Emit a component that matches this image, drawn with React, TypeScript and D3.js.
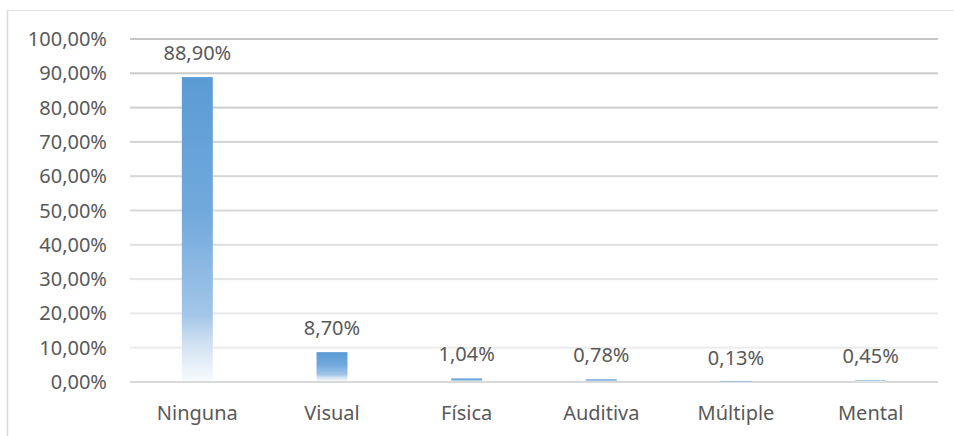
import React from "react";
import * as d3 from "d3";

const categories = ["Ninguna", "Visual", "Física", "Auditiva", "Múltiple", "Mental"];
const values = [88.9, 8.7, 1.04, 0.78, 0.13, 0.45];
const valueLabels = ["88,90%", "8,70%", "1,04%", "0,78%", "0,13%", "0,45%"];
const yTicks = [0, 10, 20, 30, 40, 50, 60, 70, 80, 90, 100];

const W = 954;
const H = 436;
const left = 130;
const right = 938;
const top = 39;
const bottom = 382;
const font = "'Noto Sans', 'Open Sans', sans-serif";
const textColor = "#595959";
const fs = 20;

export default function App() {
  const x = d3.scaleBand<string>().domain(categories).range([left, right]).paddingInner(0.77).paddingOuter(0.385);
  const y = d3.scaleLinear().domain([0, 100]).range([bottom, top]);
  const fmt = (v: number) => d3.format(".2f")(v).replace(".", ",") + "%";

  return (
    <svg width={W} height={H} style={{ position: "absolute", left: 0, top: 0 }}>
      <defs>
        <linearGradient id="barGrad" x1="0" y1="0" x2="0" y2="1">
          <stop offset="0" stopColor="#5b9bd5" />
          <stop offset="0.45" stopColor="#72a9dc" />
          <stop offset="0.78" stopColor="#a2c6e8" />
          <stop offset="0.88" stopColor="#d2e2f2" />
          <stop offset="1" stopColor="#f7fafd" />
        </linearGradient>
        <linearGradient id="gridGrad" gradientUnits="userSpaceOnUse" x1="0" y1={top} x2="0" y2={bottom}>
          <stop offset="0" stopColor="#c6c6c6" />
          <stop offset="1" stopColor="#f0f0f0" />
        </linearGradient>
      </defs>
      <rect x={0} y={0} width={W} height={H} fill="#fff" />
      <line x1={7.5} y1={10} x2={7.5} y2={H} stroke="#d9d9d9" strokeWidth={1.5} />
      <line x1={7} y1={10.5} x2={W} y2={10.5} stroke="#e0e0e0" strokeWidth={1} />
      {yTicks.map((t) => (
        <g key={t}>
          {t > 0 && (
            <rect x={left} y={y(t) - 1} width={right - left} height={2} fill="url(#gridGrad)" />
          )}
          <text x={107} y={y(t) + 7} textAnchor="end" fontFamily={font} fontSize={fs} fill={textColor}>
            {fmt(t)}
          </text>
        </g>
      ))}
      <line x1={left} y1={bottom} x2={right} y2={bottom} stroke="#d9d9d9" strokeWidth={2} />
      {categories.map((c, i) => {
        const bx = x(c) as number;
        const by = y(values[i]);
        const bh = bottom - 1 - by;
        return (
          <g key={c}>
            <rect x={bx} y={by} width={x.bandwidth()} height={Math.max(bh, 1)} fill="url(#barGrad)" />
            <text x={bx + x.bandwidth() / 2} y={by - 17} textAnchor="middle" fontFamily={font} fontSize={fs} fill={textColor}>
              {valueLabels[i]}
            </text>
            <text x={bx + x.bandwidth() / 2} y={420} textAnchor="middle" fontFamily={font} fontSize={fs} fill={textColor}>
              {c}
            </text>
          </g>
        );
      })}
    </svg>
  );
}
